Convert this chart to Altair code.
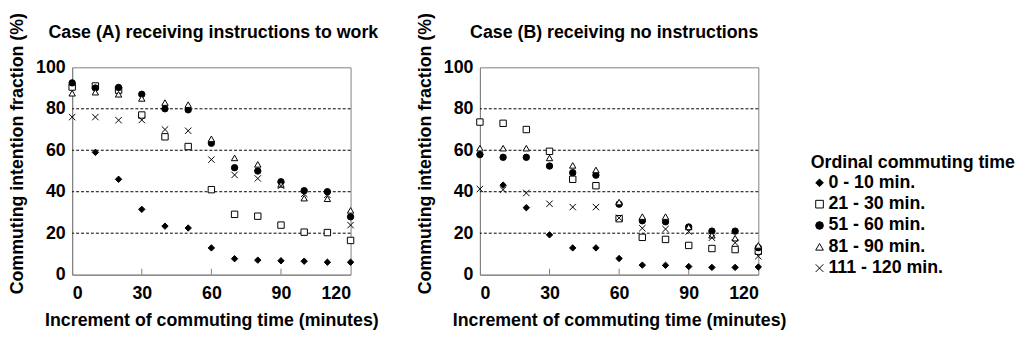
import altair as alt
import pandas as pd

FONT = "Liberation Sans"

x_vals = [0, 10, 20, 30, 40, 50, 60, 70, 80, 90, 100, 110, 120]
series_names = ["0 - 10 min.", "21 - 30 min.", "51 - 60 min.", "81 - 90 min.", "111 - 120 min."]

# Case (A) receiving instructions to work
A_d = [91, 59, 46, 31.5, 23.4, 22.5, 12.9, 7.7, 7, 6.7, 6.5, 6, 6]
A_s = [90.5, 91, 89, 77, 66.5, 61.8, 41, 29.1, 28.2, 23.9, 20.5, 20.3, 16.5]
A_c = [92.5, 90, 90.3, 87, 80, 79.5, 63.4, 51.6, 50, 44.8, 40.5, 40, 27.9]
A_t = [87.5, 88, 87, 85, 83, 82, 65.5, 56.3, 53.2, 43.5, 36.9, 36.6, 31]
A_x = [76, 76, 74.5, 74.6, 70, 69.4, 55.5, 48.1, 46.4, 42.9, 39, 38.5, 23.9]

# Case (B) receiving no instructions
B_d = [58, 43.2, 32.3, 19.2, 12.9, 12.9, 7.8, 4.6, 4.5, 3.9, 3.5, 3.5, 3.7]
B_s = [73.6, 73, 70, 59.5, 46, 42.9, 27, 18, 17, 14.1, 12.6, 12.1, 11.3]
B_c = [57.9, 56.6, 56.6, 52.4, 49.2, 48, 34, 26, 25.5, 23, 21, 21, 13]
B_t = [61, 61, 61, 56.3, 52.7, 50.5, 35, 28, 28, 23, 19, 17.6, 14.1]
B_x = [41.3, 41, 39.4, 34.2, 32.6, 32.6, 27.4, 22.4, 22, 20.8, 17.8, 15.4, 8.9]

x_ticks = [0, 30, 60, 90, 120]
inner_ticks = [30, 60, 90]
y_ticks = [0, 20, 40, 60, 80, 100]
grid_vals = [20, 40, 60, 80]

titles = ["Case (A) receiving instructions to work", "Case (B) receiving no instructions"]

shape_range = ["diamond", "square", "circle", "triangle-up", "M-1,-1L1,1M-1,1L1,-1"]
fill_range = ["black", "white", "black", "white", "transparent"]

W, H = 282, 210


def panel_df(lists):
    rows = []
    for name, vals in zip(series_names, lists):
        for x, v in zip(x_vals, vals):
            rows.append({"inc": x, "pct": v, "series": name})
    return pd.DataFrame(rows)


legend = alt.Legend(
    title="Ordinal commuting time", orient="none", legendX=748, legendY=88,
    titleFont=FONT, titleFontSize=18, titleFontWeight="bold", titleColor="black",
    labelFont=FONT, labelFontSize=18, labelFontWeight="bold", labelColor="black",
    symbolSize=60, symbolStrokeWidth=1, rowPadding=3.6, titlePadding=2,
    labelOffset=0, titleLimit=400, labelLimit=400,
)


def panel(lists, idx, title_center):
    df = panel_df(lists)
    xscale = alt.Scale(domain=[0, 120], nice=False)
    yscale = alt.Scale(domain=[0, 100], nice=False)
    pts = alt.Chart(df).mark_point(size=42, stroke="black", strokeWidth=1, opacity=1).encode(
        x=alt.X("inc:Q", scale=xscale, axis=alt.Axis(
            values=x_ticks, title="Increment of commuting time (minutes)", grid=False,
            ticks=False, labelPadding=10, titlePadding=10)),
        y=alt.Y("pct:Q", scale=yscale, axis=alt.Axis(
            values=y_ticks, title="Commuting intention fraction (%)", grid=False,
            ticks=False, labelPadding=7, titlePadding=9, titleY=87)),
        shape=alt.Shape("series:N", scale=alt.Scale(domain=series_names, range=shape_range), legend=legend),
        fill=alt.Fill("series:N", scale=alt.Scale(domain=series_names, range=fill_range), legend=legend),
    )
    grid = alt.Chart(pd.DataFrame({"g": grid_vals})).mark_rule(
        color="black", strokeWidth=1, strokeDash=[3, 2]).encode(y="g:Q")
    tdf = pd.DataFrame({"t": inner_ticks})
    ticks = alt.Chart(tdf).mark_rule(color="#808080", strokeWidth=1).encode(
        x="t:Q", y=alt.value(H), y2=alt.value(H - 6))
    ttl = alt.Chart(pd.DataFrame({"label": [titles[idx]]})).mark_text(
        font=FONT, fontSize=18, fontWeight="bold", color="black", align="center", baseline="alphabetic"
    ).encode(text="label:N", x=alt.value(title_center), y=alt.value(-30))
    return alt.layer(grid, ticks, pts, ttl).properties(width=W, height=H)


chart = alt.hconcat(
    panel([A_d, A_s, A_c, A_t, A_x], 0, 143),
    panel([B_d, B_s, B_c, B_t, B_x], 1, 136),
    spacing=37,
).properties(
    padding={"left": 0, "top": 2, "right": 0, "bottom": 0}
).configure_axis(
    labelFont=FONT, labelFontSize=18, labelFontWeight="bold", labelColor="black",
    titleFont=FONT, titleFontSize=18, titleFontWeight="bold", titleColor="black",
    domainColor="#808080", domainWidth=1,
).configure_view(stroke="#808080", strokeWidth=1)

chart.save("out.html", embed_options={"renderer": "svg", "actions": False})
